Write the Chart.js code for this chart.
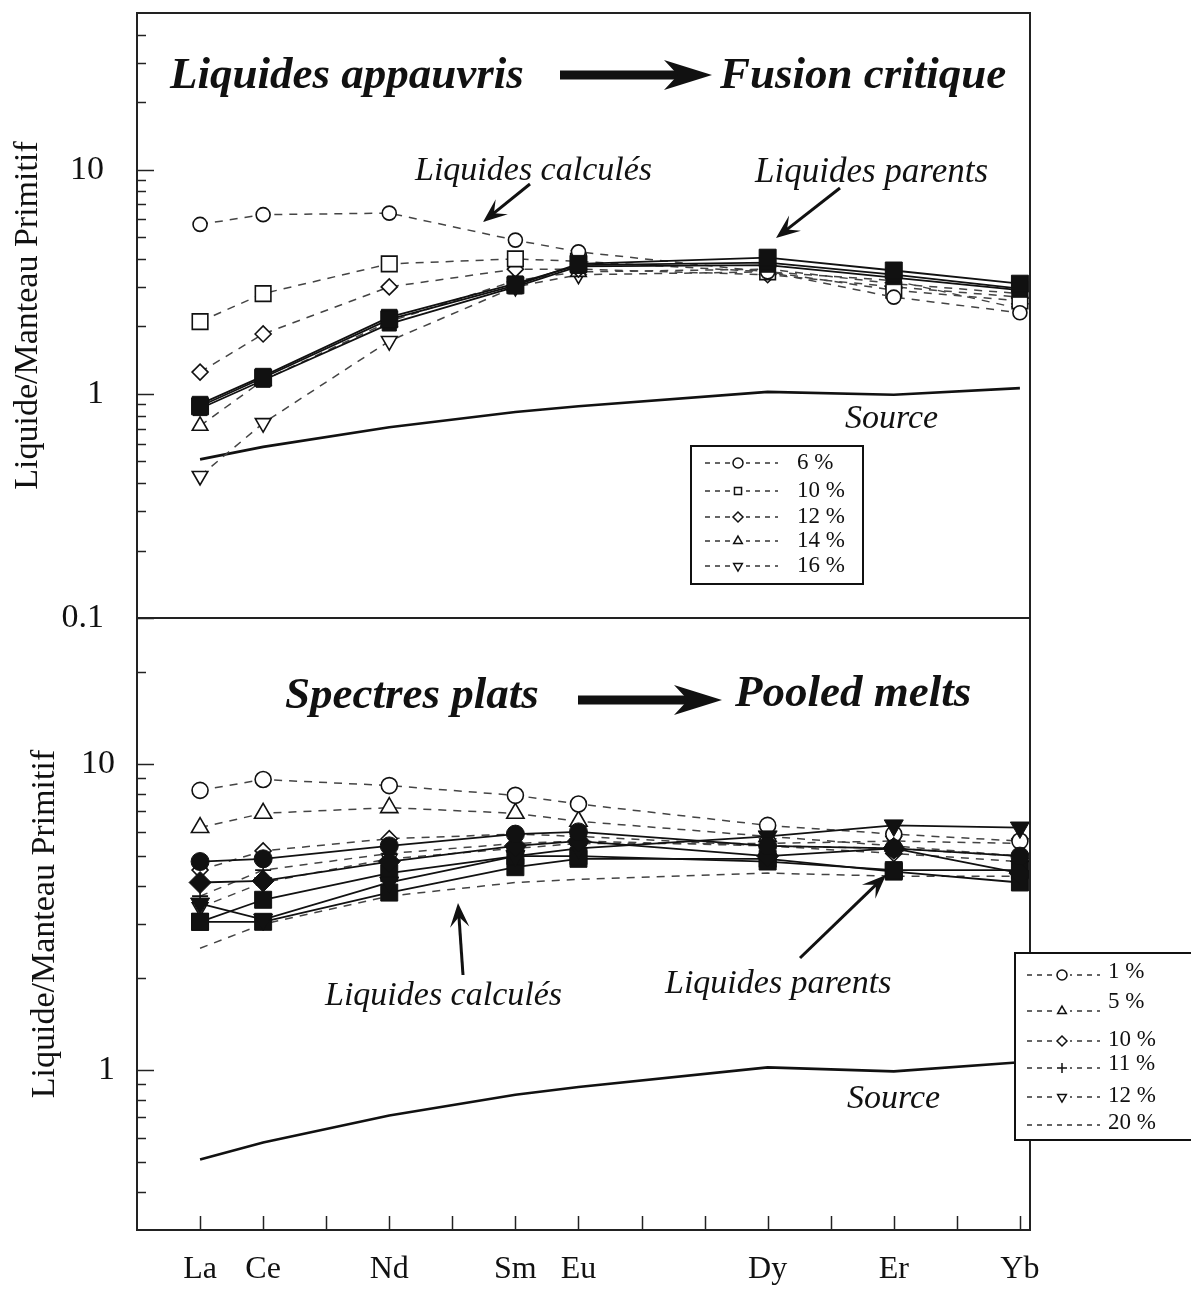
<!DOCTYPE html>
<html>
<head>
<meta charset="utf-8">
<script src="https://cdn.jsdelivr.net/npm/chart.js@4.4.0/dist/chart.umd.min.js"></script>
<style>
  body { margin: 0; background: #fff; }
  #wrap { position: relative; width: 1191px; height: 1289px; }
  #topBox { position: absolute; left: 0; top: 0; width: 1191px; height: 640px; }
  #botBox { position: absolute; left: 0; top: 600px; width: 1191px; height: 689px; }
</style>
</head>
<body>
<div id="wrap">
  <div id="topBox"><canvas id="top" width="1191" height="640"></canvas></div>
  <div id="botBox"><canvas id="bottom" width="1191" height="689"></canvas></div>
</div>
<script>
// REE, with atomic number used as x position
var elements = ['La', 'Ce', 'Nd', 'Sm', 'Eu', 'Dy', 'Er', 'Yb'];
var atomicNumbers = [57, 58, 60, 62, 63, 66, 68, 70];

var source = [0.51, 0.58, 0.71, 0.83, 0.88, 1.02, 0.99, 1.06];

// top panel : liquides appauvris -> fusion critique
var top6 = [5.7, 6.3, 6.4, 4.85, 4.3, 3.5, 2.7, 2.3];
var top10 = [2.1, 2.8, 3.8, 4.0, 3.9, 3.5, 2.9, 2.6];
var top12 = [1.25, 1.85, 3.0, 3.6, 3.6, 3.4, 3.0, 2.7];
var top14 = [0.72, 1.15, 2.1, 3.2, 3.5, 3.6, 3.1, 2.8];
var top16 = [0.43, 0.74, 1.72, 3.0, 3.4, 3.5, 3.2, 2.4];
var topParentA = [0.88, 1.18, 2.15, 3.05, 3.8, 4.05, 3.55, 3.1];
var topParentB = [0.9, 1.2, 2.2, 3.1, 3.75, 3.85, 3.4, 2.95];
var topParentC = [0.86, 1.15, 2.05, 3.0, 3.7, 3.75, 3.3, 2.9];
var topLegend = ['6 %', '10 %', '12 %', '14 %', '16 %'];

// bottom panel : spectres plats -> pooled melts
var bot1 = [8.2, 8.9, 8.5, 7.9, 7.4, 6.3, 5.9, 5.6];
var bot5 = [6.2, 6.9, 7.2, 6.9, 6.5, 5.8, 5.4, 5.0];
var bot10 = [4.5, 5.2, 5.7, 5.9, 5.8, 5.4, 5.1, 4.8];
var bot11 = [3.7, 4.5, 5.1, 5.5, 5.6, 5.4, 5.3, 5.0];
var bot12 = [3.4, 4.1, 4.9, 5.3, 5.5, 5.5, 5.6, 5.5];
var bot20 = [2.5, 3.0, 3.7, 4.1, 4.2, 4.4, 4.3, 4.3];
var botParentA = [4.8, 4.9, 5.4, 5.9, 6.0, 5.4, 5.3, 5.0];
var botParentB = [4.1, 4.15, 4.8, 5.4, 5.6, 5.0, 5.3, 4.4];
var botParentC = [3.5, 3.1, 4.1, 5.0, 5.3, 5.8, 6.3, 6.2];
var botParentD = [3.05, 3.6, 4.4, 5.0, 5.0, 4.8, 4.5, 4.5];
var botParentE = [3.05, 3.05, 3.8, 4.6, 4.9, 4.9, 4.45, 4.1];
var botLegend = ['1 %', '5 %', '10 %', '11 %', '12 %', '20 %'];

var topTicks = [0.1, 0.2, 0.3, 0.4, 0.5, 0.6, 0.7, 0.8, 0.9, 1, 2, 3, 4, 5, 6, 7, 8, 9, 10, 20, 30, 40];
var botTicks = [0.4, 0.5, 0.6, 0.7, 0.8, 0.9, 1, 2, 3, 4, 5, 6, 7, 8, 9, 10, 20];
var xTicks = [57, 58, 59, 60, 61, 62, 63, 64, 65, 66, 67, 68, 69, 70];
var majorTicks = [0.1, 1, 10];

var serif = 'Liberation Serif';

function pts(values) {
  return values.map(function(v, i) { return { x: atomicNumbers[i], y: v }; });
}

function calc(values, style, rot, r) {
  return {
    data: pts(values), borderColor: '#444', borderWidth: 1.5, borderDash: [8, 7],
    pointStyle: style, pointRotation: rot || 0, pointRadius: r,
    pointBackgroundColor: '#fff', pointBorderColor: '#111', pointBorderWidth: 1.6
  };
}

function parent(values, style, rot, r) {
  return {
    data: pts(values), borderColor: '#111', borderWidth: 1.8,
    pointStyle: style, pointRotation: rot || 0, pointRadius: r,
    pointBackgroundColor: '#111', pointBorderColor: '#111', pointBorderWidth: 1
  };
}

function sourceLine() {
  return { data: pts(source), borderColor: '#111', borderWidth: 2.6, pointRadius: 0 };
}

// frame + inward tick marks
var frame = {
  id: 'frame',
  afterDraw: function(chart, args, opts) {
    var ctx = chart.ctx, a = chart.chartArea;
    var ys = chart.scales.y, xs = chart.scales.x;
    ctx.save();
    ctx.strokeStyle = '#222';
    ctx.lineWidth = 1.5;
    ys.ticks.forEach(function(t) {
      var py = Math.round(ys.getPixelForValue(t.value)) + 0.5;
      var len = majorTicks.indexOf(t.value) >= 0 ? 17 : 9;
      ctx.beginPath(); ctx.moveTo(a.left, py); ctx.lineTo(a.left + len, py); ctx.stroke();
    });
    if (opts.xTicks) {
      xTicks.forEach(function(v) {
        var px = Math.round(xs.getPixelForValue(v)) + 0.5;
        ctx.beginPath(); ctx.moveTo(px, a.bottom); ctx.lineTo(px, a.bottom - 14); ctx.stroke();
      });
    }
    ctx.lineWidth = 2;
    ctx.strokeRect(a.left, a.top, a.right - a.left, a.bottom - a.top);
    ctx.restore();
  }
};

function bigArrow(ctx, x1, x2, y) {
  ctx.fillRect(x1, y - 4.5, x2 - x1 - 30, 9);
  ctx.beginPath();
  ctx.moveTo(x2, y);
  ctx.lineTo(x2 - 48, y - 15);
  ctx.lineTo(x2 - 34, y);
  ctx.lineTo(x2 - 48, y + 15);
  ctx.closePath();
  ctx.fill();
}

function thinArrow(ctx, x1, y1, x2, y2) {
  var ang = Math.atan2(y2 - y1, x2 - x1);
  var hl = 26, hw = 0.38;
  ctx.lineWidth = 3;
  ctx.beginPath();
  ctx.moveTo(x1, y1);
  ctx.lineTo(x2 - Math.cos(ang) * 12, y2 - Math.sin(ang) * 12);
  ctx.stroke();
  ctx.beginPath();
  ctx.moveTo(x2, y2);
  ctx.lineTo(x2 - hl * Math.cos(ang - hw), y2 - hl * Math.sin(ang - hw));
  ctx.lineTo(x2 - 14 * Math.cos(ang), y2 - 14 * Math.sin(ang));
  ctx.lineTo(x2 - hl * Math.cos(ang + hw), y2 - hl * Math.sin(ang + hw));
  ctx.closePath();
  ctx.fill();
}

var notes = {
  id: 'notes',
  afterDraw: function(chart, args, opts) {
    var ctx = chart.ctx;
    ctx.save();
    ctx.fillStyle = '#111';
    ctx.strokeStyle = '#111';
    ctx.textAlign = 'left';
    ctx.textBaseline = 'alphabetic';
    (opts.texts || []).forEach(function(t) {
      ctx.font = t.font;
      ctx.fillText(t.text, t.x, t.y);
    });
    (opts.bigArrows || []).forEach(function(b) { bigArrow(ctx, b[0], b[1], b[2]); });
    (opts.arrows || []).forEach(function(b) { thinArrow(ctx, b[0], b[1], b[2], b[3]); });

    // legend box
    var lg = opts.legend;
    if (lg) {
      ctx.lineWidth = 2;
      ctx.fillStyle = '#fff';
      ctx.fillRect(lg.box[0], lg.box[1], lg.box[2], lg.box[3]);
      ctx.strokeRect(lg.box[0], lg.box[1], lg.box[2], lg.box[3]);
      lg.items.forEach(function(it, i) {
        var ds = chart.data.datasets[it.ds];
        ctx.strokeStyle = '#333';
        ctx.lineWidth = 1.5;
        ctx.setLineDash([5, 5]);
        ctx.beginPath();
        ctx.moveTo(lg.x0, it.y); ctx.lineTo(lg.x1, it.y);
        ctx.stroke();
        ctx.setLineDash([]);
        if (ds.pointStyle) {
          ctx.fillStyle = '#fff';
          ctx.fillRect(lg.xm - 8, it.y - 7, 16, 14);
          ctx.strokeStyle = '#111';
          Chart.helpers.drawPoint(ctx, {
            pointStyle: ds.pointStyle, rotation: ds.pointRotation || 0,
            radius: lg.r, borderWidth: 1.4
          }, lg.xm, it.y);
        }
        ctx.fillStyle = '#111';
        ctx.font = lg.font;
        ctx.textBaseline = 'middle';
        ctx.fillText(it.label, lg.tx, it.ty);
      });
    }
    ctx.restore();
  }
};

// no extra room for the end tick labels: the frame sits where the reference has it
function noEdgePadding(s) {
  s.paddingTop = 0; s.paddingBottom = 0; s.paddingLeft = 0; s.paddingRight = 0;
}

function yAxis(min, max, ticks, pad, titlePad) {
  return {
    type: 'logarithmic', min: min, max: max,
    afterBuildTicks: function(s) { s.ticks = ticks.map(function(v) { return { value: v }; }); },
    afterFit: function(s) { s.width = 137; noEdgePadding(s); },
    grid: { display: false, drawTicks: false },
    border: { display: false },
    ticks: {
      autoSkip: false, padding: pad, color: '#111',
      font: { family: serif, size: 34 },
      callback: function(v) { return majorTicks.indexOf(v) >= 0 ? String(v) : ''; }
    },
    title: {
      display: true, text: 'Liquide/Manteau Primitif', color: '#111',
      font: { family: serif, size: 34 }, padding: { top: titlePad, bottom: 0 }
    }
  };
}

Chart.defaults.font.family = serif;

var bold = 'italic bold 45px "Liberation Serif"';
var ital = 'italic 34px "Liberation Serif"';

var topChart = new Chart(document.getElementById('top').getContext('2d'), {
  type: 'line',
  data: {
    datasets: [
      parent(topParentA, 'rect', 0, 12),
      parent(topParentB, 'rect', 0, 11),
      parent(topParentC, 'rect', 0, 10),
      calc(top6, 'circle', 0, 7),
      calc(top10, 'rect', 0, 11),
      calc(top12, 'rectRot', 0, 8),
      calc(top14, 'triangle', 0, 9),
      calc(top16, 'triangle', 180, 9),
      sourceLine()
    ]
  },
  options: {
    responsive: false, animation: false, events: [],
    layout: { padding: { left: 0, top: 8, right: 161, bottom: 22 } },
    scales: {
      x: { type: 'linear', display: false, min: 56, max: 70.16, afterFit: noEdgePadding },
      y: yAxis(0.1, 50, topTicks, 33, 8)
    },
    plugins: {
      legend: { display: false }, tooltip: { enabled: false },
      frame: {},
      notes: {
        texts: [
          { text: 'Liquides appauvris', x: 170, y: 88, font: bold },
          { text: 'Fusion critique', x: 720, y: 88, font: bold },
          { text: 'Liquides calculés', x: 415, y: 180, font: ital },
          { text: 'Liquides parents', x: 755, y: 182, font: 'italic 35px "Liberation Serif"' },
          { text: 'Source', x: 845, y: 428, font: ital }
        ],
        bigArrows: [[560, 712, 75]],
        arrows: [[530, 184, 483, 222], [840, 188, 776, 238]],
        legend: {
          box: [691, 446, 172, 138], x0: 705, x1: 778, xm: 738, tx: 797, r: 5,
          font: '23px "Liberation Serif"',
          items: topLegend.map(function(l, i) {
            return { ds: 3 + i, label: l, y: [463, 491, 517, 541, 566][i], ty: [463, 491, 517, 541, 566][i] };
          })
        }
      }
    }
  },
  plugins: [frame, notes]
});

var botChart = new Chart(document.getElementById('bottom').getContext('2d'), {
  type: 'line',
  data: {
    datasets: [
      parent(botParentA, 'circle', 0, 9),
      parent(botParentB, 'rectRot', 0, 11),
      parent(botParentC, 'triangle', 180, 11),
      parent(botParentD, 'rect', 0, 12),
      parent(botParentE, 'rect', 0, 12),
      calc(bot1, 'circle', 0, 8),
      calc(bot5, 'triangle', 0, 10),
      calc(bot10, 'rectRot', 0, 8),
      calc(bot11, 'cross', 0, 8),
      calc(bot12, 'triangle', 180, 9),
      calc(bot20, false, 0, 0),
      sourceLine()
    ]
  },
  options: {
    responsive: false, animation: false, events: [],
    layout: { padding: { left: 0, top: 18, right: 161, bottom: 0 } },
    scales: {
      x: {
        type: 'linear', min: 56, max: 70.16,
        afterBuildTicks: function(s) { s.ticks = xTicks.map(function(v) { return { value: v }; }); },
        afterFit: function(s) { s.height = 59; noEdgePadding(s); },
        grid: { display: false, drawTicks: false },
        border: { display: false },
        ticks: {
          autoSkip: false, maxRotation: 0, padding: 20, color: '#111',
          font: { family: serif, size: 32 },
          callback: function(v) {
            var i = atomicNumbers.indexOf(v);
            return i >= 0 ? elements[i] : '';
          }
        }
      },
      y: yAxis(0.3, 30, botTicks, 22, 25)
    },
    plugins: {
      legend: { display: false }, tooltip: { enabled: false },
      frame: { xTicks: true },
      notes: {
        texts: [
          { text: 'Spectres plats', x: 285, y: 108, font: bold },
          { text: 'Pooled melts', x: 735, y: 106, font: bold },
          { text: 'Liquides calculés', x: 325, y: 405, font: ital },
          { text: 'Liquides parents', x: 665, y: 393, font: ital },
          { text: 'Source', x: 847, y: 508, font: ital }
        ],
        bigArrows: [[578, 722, 100]],
        arrows: [[463, 375, 458, 303], [800, 358, 886, 275]],
        legend: {
          box: [1015, 353, 190, 187], x0: 1027, x1: 1100, xm: 1062, tx: 1108, r: 5,
          font: '23px "Liberation Serif"',
          items: botLegend.map(function(l, i) {
            return { ds: 5 + i, label: l, y: [375, 411, 441, 468, 497, 525][i], ty: [372, 402, 440, 464, 496, 523][i] };
          })
        }
      }
    }
  },
  plugins: [frame, notes]
});
</script>
</body>
</html>
